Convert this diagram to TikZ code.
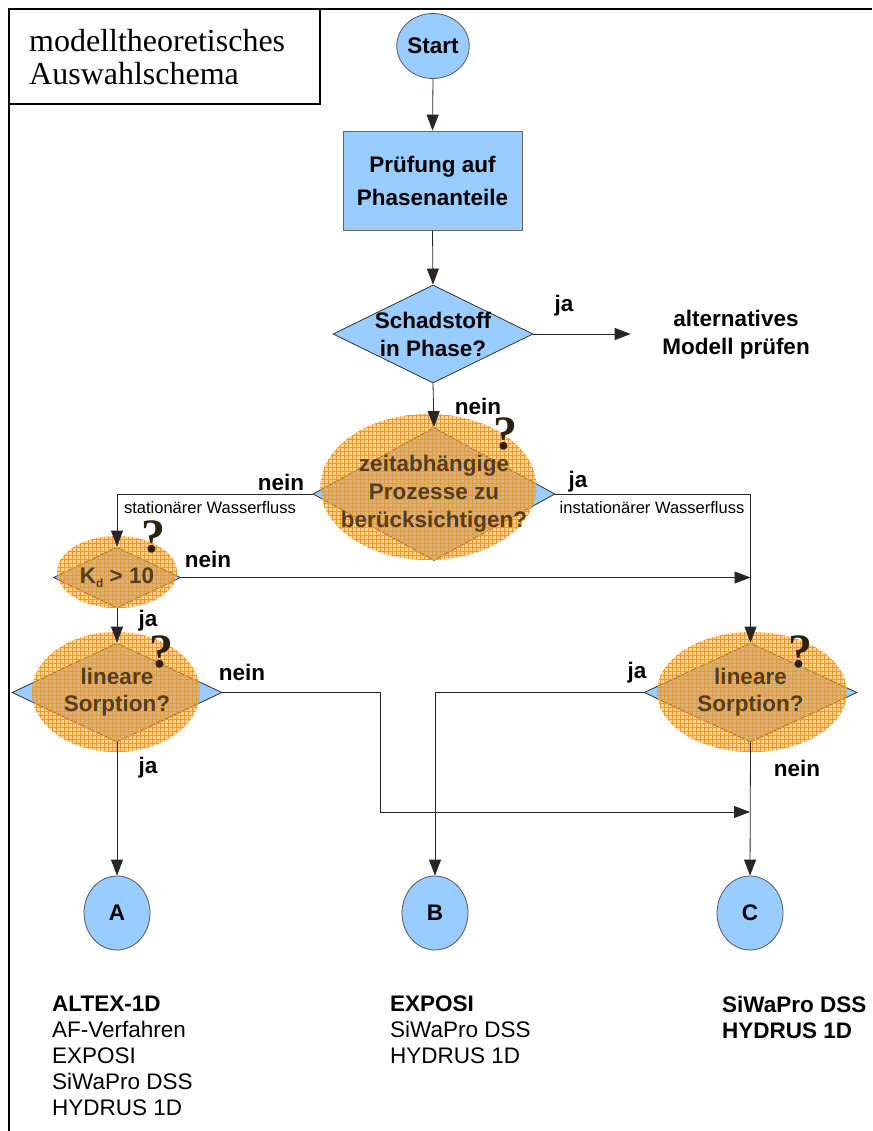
\documentclass[tikz,border=0pt]{standalone}
\usepackage{fontspec}
\setmainfont{Liberation Sans}
\newfontfamily\serifschrift{Liberation Serif}
\usepackage{tikz}
\usetikzlibrary{shapes.geometric,arrows.meta,patterns}

\definecolor{kastenblau}{HTML}{99CCFF}
\definecolor{halofarbe}{HTML}{EDA445}
\definecolor{gitterfarbe}{HTML}{F09820}
\definecolor{textbraun}{HTML}{5A3C14}
\definecolor{fragebraun}{HTML}{2E200E}

\pgfdeclarepatternformonly{feingitter}{\pgfqpoint{-1pt}{-1pt}}{\pgfqpoint{4pt}{4pt}}{\pgfqpoint{4pt}{4pt}}{
  \pgfsetlinewidth{0.35pt}
  \pgfpathmoveto{\pgfqpoint{0pt}{0pt}}\pgfpathlineto{\pgfqpoint{0pt}{4.1pt}}
  \pgfpathmoveto{\pgfqpoint{0pt}{0pt}}\pgfpathlineto{\pgfqpoint{4.1pt}{0pt}}
  \pgfusepath{stroke}}

\begin{document}
\begin{tikzpicture}[x=1pt, y=-1pt,
    flow/.style={-{Triangle[length=16pt,width=12pt]}, line width=0.8pt, black!85},
    terminal/.style={ellipse, draw=black!65, fill=kastenblau, line width=0.8pt, inner sep=0pt,
      font=\fontsize{22.5}{26}\selectfont\bfseries},
    entscheid/.style={diamond, draw=black!80, fill=kastenblau, line width=0.8pt, inner sep=0pt},
    dtext/.style={align=center, font=\fontsize{22.5}{28}\selectfont\bfseries},
    lbl/.style={font=\fontsize{22.5}{26}\selectfont\bfseries},
    klein/.style={font=\fontsize{16.5}{18}\selectfont},
    halo/.style={fill=halofarbe, fill opacity=0.5},
    raster/.style={pattern=feingitter, pattern color=gitterfarbe},
    frage/.style={font=\serifschrift\fontsize{48}{48}\selectfont\bfseries, text=fragebraun}]
  \useasboundingbox (0,0) rectangle (872,1131);

  % Rahmen und Titel
  \draw [line width=2pt] (872,9) -- (9,9) -- (9,1131);
  \draw [line width=1.2pt] (9,9) rectangle (320,104);
  \node (titel) [anchor=north west, align=left, inner sep=0pt,
    font=\serifschrift\fontsize{32}{33}\selectfont] at (29,29) {modelltheoretisches\\Auswahlschema};

  % Knoten
  \node (start) [terminal, minimum width=69pt, minimum height=65pt] at (433,46) {Start};
  \node (pruefung) [draw=black!60, fill=kastenblau, line width=0.8pt, minimum width=179pt,
    minimum height=99pt, align=center, font=\fontsize{22.5}{33}\selectfont\bfseries] at (432.5,180.5)
    {Prüfung auf\\Phasenanteile};

  \node (phase) [entscheid, minimum width=200pt, minimum height=98pt] at (433,334) {};
  \node [dtext] at (phase) {Schadstoff\\in Phase?};
  \node (alt) [dtext] at (736,335) {alternatives\\Modell prüfen};

  \node (zeit) [entscheid, minimum width=242pt, minimum height=133pt] at (434,494) {};
  \node (kd) [entscheid, minimum width=127pt, minimum height=61pt] at (117,577.5) {};
  \node (linL) [entscheid, minimum width=210pt, minimum height=99pt] at (117,692.5) {};
  \node (linR) [entscheid, minimum width=213pt, minimum height=99pt] at (750.5,692.5) {};

  \node (modA) [terminal, minimum width=66pt, minimum height=74pt] at (117,913) {A};
  \node (modB) [terminal, minimum width=66pt, minimum height=74pt] at (435,913) {B};
  \node (modC) [terminal, minimum width=66pt, minimum height=74pt] at (750,913) {C};

  % Hervorhebungen
  \fill [halo] (428.5,487) ellipse [x radius=108, y radius=73];
  \fill [raster] (428.5,487) ellipse [x radius=108, y radius=73];
  \fill [halo] (117,572) ellipse [x radius=60, y radius=36];
  \fill [raster] (117,572) ellipse [x radius=60, y radius=36];
  \fill [halo] (116,692) ellipse [x radius=84, y radius=60];
  \fill [raster] (116,692) ellipse [x radius=84, y radius=60];
  \fill [halo] (752,692) ellipse [x radius=95, y radius=60];
  \fill [raster] (752,692) ellipse [x radius=95, y radius=60];

  \node [dtext, text=textbraun] at (zeit) {zeitabhängige\\Prozesse zu\\berücksichtigen?};
  \node [dtext, text=textbraun] at (kd) {K\raisebox{-4pt}{\fontsize{12}{12}\selectfont d} > 10};
  \node [dtext, text=textbraun, font=\fontsize{22.5}{27}\selectfont\bfseries] at (linL) {lineare\\Sorption?};
  \node [dtext, text=textbraun, font=\fontsize{22.5}{27}\selectfont\bfseries] at (linR) {lineare\\Sorption?};

  \node [frage] at (505,434) {?};
  \node [frage] at (153,537) {?};
  \node [frage] at (161,652) {?};
  \node [frage] at (800,652) {?};

  % Verbindungen
  \coordinate (knick) at (380,812);
  \draw [flow] (start.south) -- (pruefung.north);
  \draw [flow] (pruefung.south) -- (phase.north);
  \draw [flow, shorten >=28pt] (phase.east) -- (phase.east -| alt.west);
  \draw [flow] (phase.south) -- (zeit.north);
  \draw [flow] (zeit.west) -| (kd.north);
  \draw [flow] (zeit.east) -| (linR.north);
  \draw [flow] (kd.east) -- (kd.east -| linR.north);
  \draw [flow] (kd.south) -- (linL.north);
  \draw [flow] (linL.east) -| (knick) -- (knick -| modC.north);
  \draw [flow] (linR.west) -| (modB.north);
  \draw [flow] (linR.south) -- (modC.north);
  \draw [flow] (linL.south) -- (modA.north);

  % Beschriftungen
  \node [lbl] at (564,306) {ja};
  \node [lbl] at (478,406) {nein};
  \node [lbl] at (281,482) {nein};
  \node [lbl] at (578,482) {ja};
  \node [klein] at (210,508) {stationärer Wasserfluss};
  \node [klein] at (652,508) {instationärer Wasserfluss};
  \node [lbl] at (208,559) {nein};
  \node [lbl] at (148,621) {ja};
  \node [lbl] at (242,672) {nein};
  \node [lbl] at (637,673) {ja};
  \node [lbl] at (148,768) {ja};
  \node [lbl] at (797,768) {nein};

  % Modelle
  \node (listeA) [anchor=north west, align=left, inner sep=0pt, font=\fontsize{22.5}{26}\selectfont]
    at (52,996) {\textbf{ALTEX-1D}\\AF-Verfahren\\EXPOSI\\SiWaPro DSS\\HYDRUS 1D};
  \node (listeB) [anchor=north west, align=left, inner sep=0pt, font=\fontsize{22.5}{26}\selectfont]
    at (390,996) {\textbf{EXPOSI}\\SiWaPro DSS\\HYDRUS 1D};
  \node (listeC) [anchor=north west, align=left, inner sep=0pt, font=\fontsize{22.5}{26}\selectfont\bfseries]
    at (722,996) {SiWaPro DSS\\HYDRUS 1D};
\end{tikzpicture}
\end{document}
